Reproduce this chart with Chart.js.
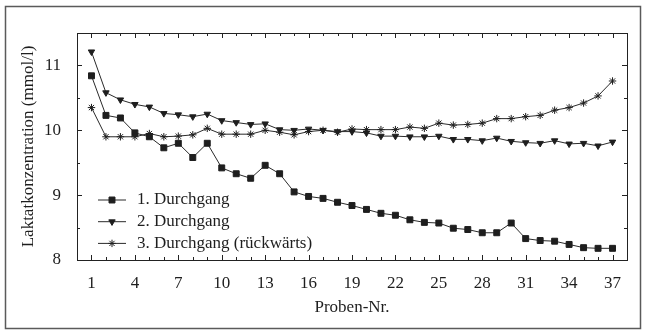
<!DOCTYPE html>
<html>
<head>
<meta charset="utf-8">
<script src="https://cdn.jsdelivr.net/npm/chart.js@4/dist/chart.umd.min.js"></script>
<style>
html,body{margin:0;padding:0;background:#fff;}
#wrap{width:645px;height:331px;position:relative;}
canvas{display:block;}
</style>
</head>
<body>
<div id="wrap"><canvas id="c" width="645" height="331"></canvas></div>
<script>
const probenNr = [1,2,3,4,5,6,7,8,9,10,11,12,13,14,15,16,17,18,19,20,21,22,23,24,25,26,27,28,29,30,31,32,33,34,35,36,37];
const durchgang1 = [10.84,10.23,10.19,9.96,9.90,9.73,9.80,9.58,9.80,9.42,9.33,9.26,9.46,9.33,9.05,8.98,8.95,8.89,8.84,8.78,8.72,8.69,8.62,8.58,8.57,8.49,8.47,8.42,8.42,8.57,8.33,8.30,8.29,8.24,8.19,8.18,8.18];
const durchgang2 = [11.21,10.58,10.47,10.40,10.36,10.26,10.24,10.21,10.25,10.15,10.12,10.09,10.10,10.01,10.00,10.02,10.00,9.98,9.98,9.96,9.91,9.91,9.90,9.90,9.91,9.86,9.86,9.84,9.88,9.83,9.81,9.80,9.84,9.79,9.80,9.76,9.82];
const durchgang3 = [10.35,9.90,9.90,9.90,9.95,9.90,9.91,9.93,10.03,9.94,9.94,9.94,10.00,9.97,9.93,9.98,10.00,9.97,10.02,10.01,10.01,10.01,10.05,10.03,10.11,10.08,10.09,10.11,10.18,10.18,10.21,10.23,10.31,10.35,10.42,10.53,10.76];
const seriesNames = ['1. Durchgang','2. Durchgang','3. Durchgang (rückwärts)'];
const xTickLabels = [1,4,7,10,13,16,19,22,25,28,31,34,37];
const yTickLabels = [8,9,10,11];
const xTitle = 'Proben-Nr.';
const yTitle = 'Laktatkonzentration (mmol/l)';

const FONT = '"Liberation Serif","Times New Roman",serif';
const INK = '#1e1e1e';

function pts(arr){ return probenNr.map((x,i)=>({x:x, y:arr[i]})); }

function mkDs(label, arr, style, radius, rotation){
  return {
    label: label,
    data: pts(arr),
    borderColor: '#2a2a2a',
    borderWidth: 1,
    backgroundColor: INK,
    pointStyle: style,
    pointRadius: radius,
    pointRotation: rotation,
    pointBackgroundColor: INK,
    pointBorderColor: INK,
    pointBorderWidth: 1,
    tension: 0,
    fill: false
  };
}

function fallbackPoint(ctx, o, x, y){
  const r = o.radius;
  ctx.beginPath();
  if (o.pointStyle === 'rect'){
    const s = r*Math.SQRT1_2;
    ctx.rect(x-s, y-s, 2*s, 2*s);
  } else if (o.pointStyle === 'triangle'){
    let a = (o.rotation||0)*Math.PI/180;
    ctx.moveTo(x+Math.sin(a)*r, y-Math.cos(a)*r);
    a += 2*Math.PI/3; ctx.lineTo(x+Math.sin(a)*r, y-Math.cos(a)*r);
    a += 2*Math.PI/3; ctx.lineTo(x+Math.sin(a)*r, y-Math.cos(a)*r);
    ctx.closePath();
  } else {
    ctx.moveTo(x-r,y); ctx.lineTo(x+r,y);
    ctx.moveTo(x,y-r); ctx.lineTo(x,y+r);
    const d = r*Math.SQRT1_2;
    ctx.moveTo(x-d,y-d); ctx.lineTo(x+d,y+d);
    ctx.moveTo(x-d,y+d); ctx.lineTo(x+d,y-d);
  }
  if (o.pointStyle !== 'star') ctx.fill();
  ctx.stroke();
}

const framePlugin = {
  id: 'frameTicks',
  beforeDatasetsDraw(chart){
    const ctx = chart.ctx, a = chart.chartArea;
    const xs = chart.scales.x, ys = chart.scales.y;
    ctx.save();
    ctx.strokeStyle = '#5a5a5a';
    ctx.lineWidth = 1.5;
    ctx.strokeRect(5.5, 6.5, 635, 322);
    ctx.strokeStyle = '#222';
    ctx.lineWidth = 1;
    ctx.strokeRect(Math.round(a.left)+0.5, Math.round(a.top)+0.5, Math.round(a.right-a.left), Math.round(a.bottom-a.top));
    ctx.beginPath();
    for (let v = 1; v <= 37; v++){
      const px = Math.round(xs.getPixelForValue(v))+0.5;
      const len = xTickLabels.includes(v) ? 5 : 3;
      ctx.moveTo(px, a.bottom); ctx.lineTo(px, a.bottom-len);
      ctx.moveTo(px, a.top); ctx.lineTo(px, a.top+len);
    }
    for (let v = 8.5; v <= 11.5; v += 0.5){
      const py = Math.round(ys.getPixelForValue(v))+0.5;
      const len = Number.isInteger(v) ? 5 : 3;
      ctx.moveTo(a.left, py); ctx.lineTo(a.left+len, py);
      ctx.moveTo(a.right, py); ctx.lineTo(a.right-len, py);
    }
    ctx.stroke();
    ctx.restore();
  },
  afterDraw(chart){
    const ctx = chart.ctx;
    ctx.save();
    chart.data.datasets.forEach((ds, i) => {
      const y = 200 + i*21.7;
      ctx.strokeStyle = ds.borderColor;
      ctx.lineWidth = ds.borderWidth;
      ctx.beginPath();
      ctx.moveTo(98, y); ctx.lineTo(126, y);
      ctx.stroke();
      ctx.fillStyle = ds.pointBackgroundColor;
      ctx.strokeStyle = ds.pointBorderColor;
      ctx.lineWidth = ds.pointBorderWidth;
      const o = {pointStyle: ds.pointStyle, rotation: ds.pointRotation, radius: ds.pointRadius, borderWidth: ds.pointBorderWidth};
      if (window.Chart && Chart.helpers && Chart.helpers.drawPoint){
        Chart.helpers.drawPoint(ctx, o, 112, y);
      } else {
        fallbackPoint(ctx, o, 112, y);
      }
      ctx.fillStyle = INK;
      ctx.font = '17px ' + FONT;
      ctx.textBaseline = 'middle';
      ctx.textAlign = 'left';
      ctx.fillText(ds.label, 137, y);
    });
    ctx.restore();
  }
};

new Chart(document.getElementById('c'), {
  type: 'line',
  data: {
    datasets: [
      mkDs(seriesNames[0], durchgang1, 'rect', 4.2, 0),
      mkDs(seriesNames[1], durchgang2, 'triangle', 3.7, 180),
      mkDs(seriesNames[2], durchgang3, 'star', 3.7, 0)
    ]
  },
  options: {
    responsive: false,
    animation: false,
    devicePixelRatio: 1,
    layout: { padding: { left: 0, top: 33, right: 18, bottom: 0 } },
    plugins: { legend: { display: false }, tooltip: { enabled: false } },
    scales: {
      x: {
        type: 'linear',
        min: 0, max: 38,
        afterBuildTicks: s => { s.ticks = xTickLabels.map(v => ({value: v})); },
        afterFit: s => { s.height = 71; },
        grid: { display: false },
        border: { display: false },
        ticks: { color: INK, font: { family: FONT, size: 17 }, padding: 5, maxRotation: 0, autoSkip: false },
        title: { display: true, text: xTitle, color: INK, font: { family: FONT, size: 17 }, padding: { top: 0, bottom: 13 } }
      },
      y: {
        type: 'linear',
        min: 8, max: 11.5,
        afterBuildTicks: s => { s.ticks = yTickLabels.map(v => ({value: v})); },
        afterFit: s => { s.width = 77; },
        grid: { display: false },
        border: { display: false },
        ticks: { color: INK, font: { family: FONT, size: 17 }, padding: 8 },
        title: { display: true, text: yTitle, color: INK, font: { family: FONT, size: 17 }, padding: { top: 18, bottom: 0 } }
      }
    }
  },
  plugins: [framePlugin]
});
</script>
</body>
</html>
